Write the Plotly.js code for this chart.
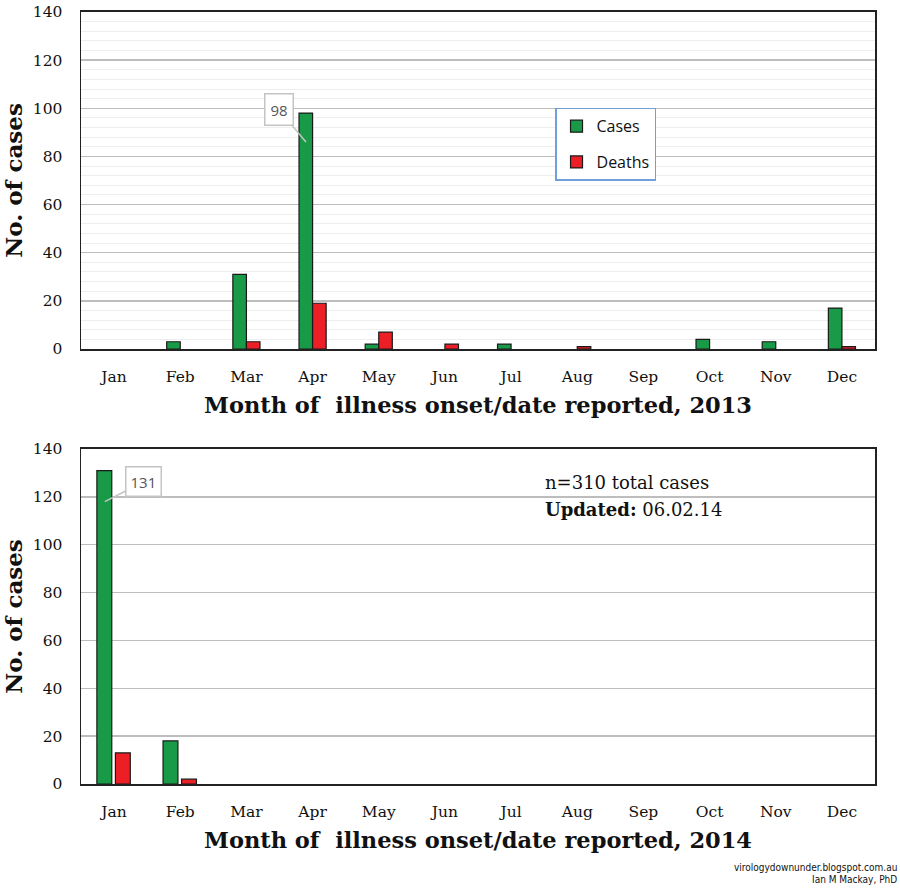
<!DOCTYPE html>
<html>
<head>
<meta charset="utf-8">
<script src="https://cdn.plot.ly/plotly-3.0.1.min.js"></script>
<style>html,body{margin:0;padding:0;background:#fff;}#chart{width:900px;height:889px;}</style>
</head>
<body>
<div id="chart"></div>
<script>
const months = ["Jan","Feb","Mar","Apr","May","Jun","Jul","Aug","Sep","Oct","Nov","Dec"];
const cases2013  = [0, 3, 31, 98, 2, 0, 2, 0, 0, 4, 3, 17];
const deaths2013 = [0, 0, 3, 19, 7, 2, 0, 1, 0, 0, 0, 1];
const cases2014  = [131, 18, 0, 0, 0, 0, 0, 0, 0, 0, 0, 0];
const deaths2014 = [13, 2, 0, 0, 0, 0, 0, 0, 0, 0, 0, 0];
const yTicks = [0, 20, 40, 60, 80, 100, 120, 140];

const GREEN = "#189a47";
const RED = "#ec1f26";
const serif = "DejaVu Serif, Liberation Serif, serif";
const sans = "Open Sans, Noto Sans, sans-serif";

// outline only bars with a height (zero bars sit on the axis and are invisible)
function outline(vals) {
  return {color: "#1a1a1a", width: vals.map(v => (v > 0 ? 1.2 : 0))};
}
const data = [
  {type: "bar", name: "Cases", x: months, y: cases2013, xaxis: "x", yaxis: "y",
   marker: {color: GREEN, line: outline(cases2013)}, width: 0.205, offset: -0.205,
   showlegend: false, legendgroup: "c"},
  {type: "bar", name: "Deaths", x: months, y: deaths2013, xaxis: "x", yaxis: "y",
   marker: {color: RED, line: outline(deaths2013)}, width: 0.205, offset: 0,
   showlegend: false, legendgroup: "d"},
  {type: "bar", name: "Cases", x: months, y: cases2014, xaxis: "x2", yaxis: "y2",
   marker: {color: GREEN, line: outline(cases2014)}, width: 0.225, offset: -0.26,
   showlegend: true, legendgroup: "c"},
  {type: "bar", name: "Deaths", x: months, y: deaths2014, xaxis: "x2", yaxis: "y2",
   marker: {color: RED, line: outline(deaths2014)}, width: 0.225, offset: 0.02,
   showlegend: true, legendgroup: "d"}
];

function xAxis(anchor, titleText) {
  return {
    anchor: anchor, domain: [0, 1], type: "category", range: [-0.5, 11.5],
    showline: true, mirror: true, linecolor: "#222", linewidth: 2, layer: "above traces",
    ticks: "", ticklabelstandoff: 12, showgrid: false, zeroline: false,
    tickfont: {family: serif, size: 15.5, color: "#111"},
    title: {text: titleText, font: {family: serif, size: 22.5, color: "#111", weight: "bold"}, standoff: 13},
    fixedrange: true
  };
}
function yAxis(anchor, domain, minor) {
  const ax = {
    anchor: anchor, domain: domain, range: [0, 140], tickvals: yTicks,
    showline: true, mirror: true, linecolor: "#222", linewidth: 1.5,
    ticks: "", ticklabelstandoff: 14, showgrid: true, gridcolor: "#bdbdbd", gridwidth: 1.5,
    zeroline: false,
    tickfont: {family: serif, size: 15.5, color: "#111"},
    title: {text: "No. of cases", font: {family: serif, size: 23, color: "#111", weight: "bold"}, standoff: 14},
    fixedrange: true
  };
  if (minor) ax.minor = {dtick: 4, showgrid: true, gridcolor: "#eeeeee", gridwidth: 1, ticks: ""};
  return ax;
}

const layout = {
  width: 900, height: 889,
  margin: {l: 81, r: 25, t: 12, b: 105},
  paper_bgcolor: "#fff", plot_bgcolor: "#fff",
  barmode: "overlay",
  showlegend: true,
  legend: {x: 0.597, y: 0.876, xanchor: "left", yanchor: "top",
           bordercolor: "#6fa0dc", borderwidth: 1.5, bgcolor: "#fff",
           font: {family: sans, size: 16, color: "#111"}, tracegroupgap: 12,
           itemwidth: 30},
  xaxis: xAxis("y", "Month of  illness onset/date reported, 2013"),
  yaxis: yAxis("x", [0.5635, 1], true),
  xaxis2: xAxis("y2", "Month of  illness onset/date reported, 2014"),
  yaxis2: yAxis("x2", [0, 0.4339], false),
  annotations: [
    {xref: "x", yref: "y", x: 2.9, y: 86, text: "98", showarrow: true, arrowhead: 0,
     arrowcolor: "#c4c4c4", arrowwidth: 1.5, ax: -27, ay: -32,
     bgcolor: "#fff", bordercolor: "#c4c4c4", borderwidth: 1.5, borderpad: 5,
     font: {family: sans, size: 15, color: "#555"}},
    {xref: "x2", yref: "y2", x: -0.14, y: 118, text: "131", showarrow: true, arrowhead: 0,
     arrowcolor: "#c4c4c4", arrowwidth: 1.5, ax: 39, ay: -20,
     bgcolor: "#fff", bordercolor: "#c4c4c4", borderwidth: 1.5, borderpad: 4,
     font: {family: sans, size: 15, color: "#555"}},
    {xref: "paper", yref: "paper", x: 0.5824, y: 0.39, xanchor: "left", yanchor: "middle",
     text: "n=310 total cases", showarrow: false,
     font: {family: serif, size: 18, color: "#111"}},
    {xref: "paper", yref: "paper", x: 0.5824, y: 0.355, xanchor: "left", yanchor: "middle",
     text: "<b>Updated:</b> 06.02.14", showarrow: false,
     font: {family: serif, size: 18, color: "#111"}},
    {xref: "paper", yref: "paper", x: 1.03, y: -0.108, xanchor: "right", yanchor: "middle",
     text: "virologydownunder.blogspot.com.au", showarrow: false,
     font: {family: "DejaVu Sans Condensed, Roboto, sans-serif", size: 10, color: "#111"}},
    {xref: "paper", yref: "paper", x: 1.03, y: -0.1235, xanchor: "right", yanchor: "middle",
     text: "Ian M Mackay, PhD", showarrow: false,
     font: {family: "DejaVu Sans Condensed, Roboto, sans-serif", size: 10, color: "#111"}}
  ]
};

Plotly.newPlot("chart", data, layout, {displayModeBar: false, staticPlot: true});
</script>
</body>
</html>
